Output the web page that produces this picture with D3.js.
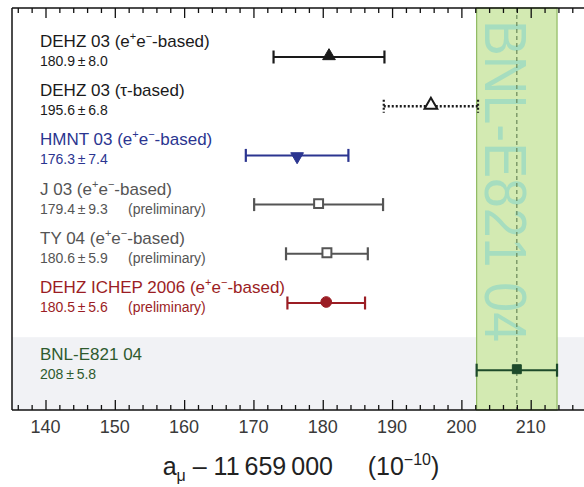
<!DOCTYPE html>
<html><head><meta charset="utf-8">
<script src="https://cdn.jsdelivr.net/npm/d3@7/dist/d3.min.js"></script>
<style>body{margin:0;background:#fff}svg{display:block}text{font-family:"Liberation Sans",Arial,Helvetica,sans-serif}</style>
</head><body><svg id="c" width="584" height="487"></svg>
<script>
// ---- data ----
const names = ["DEHZ 03 (e+e−-based)","DEHZ 03 (τ-based)","HMNT 03 (e+e−-based)","J 03 (e+e−-based)","TY 04 (e+e−-based)","DEHZ ICHEP 2006 (e+e−-based)","BNL-E821 04"];
const values = [180.9,195.6,176.3,179.4,180.6,180.5,208];
const errors = [8.0,6.8,7.4,9.3,5.9,5.6,5.8];
const preliminary = [false,false,false,true,true,true,false];
const groups = ["theory","theory","theory","theory","theory","theory","experiment"];
const majorTicks = [140,150,160,170,180,190,200,210];
const minorTicks = d3.range(136,218,2);
const bandLabel = "BNL-E821 04";
// ---- styles ----
const colors = ["#1a1a1a","#1a1a1a","#2b3590","#555555","#555555","#9b1d24","#1d4a2a"];
const textColors = ["#1a1a1a","#1a1a1a","#2b3590","#555555","#555555","#9b1d24","#2e5a2e"];
const markers = ["triUp","triUpOpen","triDown","sqOpen","sqOpen","circle","square"];
const dashed = [false,true,false,false,false,false,false];

const svg = d3.select("#c");
const W = 584, topY = 8, bottomY = 410, leftX = 12;
const x = d3.scaleLinear().domain([140,210]).range([45.5,530.7]);
const slot = d3.scaleLinear().domain([0,5]).range([57,303]);
const y = i => slot(i) + (groups[i]==="experiment" ? 18 : 0);

// experiment shaded region
const expIdx = groups.indexOf("experiment");
svg.append("rect").attr("x",leftX).attr("y",y(expIdx)-33).attr("width",W-leftX).attr("height",bottomY-(y(expIdx)-33)).attr("fill","#f1f2f5");

// band
const bv = values[expIdx], be = errors[expIdx];
svg.append("rect").attr("x",x(bv-be)).attr("y",topY).attr("width",x(bv+be)-x(bv-be)).attr("height",bottomY-topY)
  .attr("fill","#d3eab2").attr("stroke","#8fba62").attr("stroke-width",1.2);
svg.append("text").attr("transform",`translate(${x(bv-be)+8},20) rotate(90)`)
  .attr("font-size",60).attr("fill","#5cc9d6").attr("fill-opacity",0.38)
  .attr("textLength",322).attr("lengthAdjust","spacingAndGlyphs").text(bandLabel);
svg.append("line").attr("x1",x(bv)).attr("x2",x(bv)).attr("y1",topY).attr("y2",bottomY)
  .attr("stroke","#5f7f50").attr("stroke-width",1.1).attr("stroke-dasharray","4,3");

// axes
svg.append("line").attr("x1",leftX).attr("x2",W).attr("y1",topY).attr("y2",topY).attr("stroke","#111").attr("stroke-width",1.5);
svg.append("line").attr("x1",leftX).attr("x2",W).attr("y1",bottomY).attr("y2",bottomY).attr("stroke","#111").attr("stroke-width",1.5);
svg.append("line").attr("x1",leftX).attr("x2",leftX).attr("y1",topY).attr("y2",bottomY).attr("stroke","#111").attr("stroke-width",1.5);
const gt = svg.append("g").attr("transform",`translate(0,${topY})`);
gt.call(d3.axisBottom(x).tickValues(minorTicks.filter(v=>v%10)).tickSize(5).tickFormat(""));
gt.append("g").call(d3.axisBottom(x).tickValues(majorTicks).tickSize(10).tickFormat(""));
const gb = svg.append("g").attr("transform",`translate(0,${bottomY})`);
gb.call(d3.axisTop(x).tickValues(minorTicks.filter(v=>v%10)).tickSize(5).tickFormat(""));
gb.append("g").call(d3.axisTop(x).tickValues(majorTicks).tickSize(10).tickFormat(""));
svg.selectAll(".domain").remove();
svg.selectAll(".tick line").attr("stroke","#111").attr("stroke-width",1.3);
svg.selectAll(".tickLabel").data(majorTicks).join("text").attr("x",d=>x(d)).attr("y",bottomY+23)
  .attr("text-anchor","middle").attr("font-size",18).attr("fill","#3a3a3a").text(d=>d);

// axis title
const t = svg.append("text").attr("x",301).attr("y",475).attr("text-anchor","middle").attr("font-size",25).attr("fill","#222");
t.append("tspan").text("a");
t.append("tspan").attr("font-size",16).attr("dy",6).text("μ");
t.append("tspan").attr("dy",-6).text("\u00a0– 11\u2009659\u2009000\u00a0\u00a0\u00a0\u00a0\u00a0(10");
t.append("tspan").attr("font-size",16).attr("dy",-10).text("−10");
t.append("tspan").attr("dy",10).text(")");

// rows
values.forEach((v,i)=>{
  const yc = y(i), c = colors[i];
  const g = svg.append("g");
  const dash = dashed[i] ? "2,2" : null;
  const sw = dashed[i] ? 2.5 : 2;
  g.append("line").attr("x1",x(v-errors[i])).attr("x2",x(v+errors[i])).attr("y1",yc).attr("y2",yc)
    .attr("stroke",c).attr("stroke-width",sw).attr("stroke-dasharray",dash);
  [v-errors[i],v+errors[i]].forEach(e=>g.append("line").attr("x1",x(e)).attr("x2",x(e)).attr("y1",yc-6.5).attr("y2",yc+6.5)
    .attr("stroke",c).attr("stroke-width",2.2).attr("stroke-dasharray",dash));
  const m = markers[i];
  let sym;
  if(m.startsWith("tri")) sym = d3.symbol(d3.symbolTriangle,70);
  else if(m==="circle") sym = d3.symbol(d3.symbolCircle,90);
  else sym = d3.symbol(d3.symbolSquare,80);
  const open = m.includes("Open");
  g.append("path").attr("d",sym()).attr("transform",`translate(${x(v)},${yc+(m==="triDown"?1:-1)}) rotate(${m==="triDown"?180:0})`)
    .attr("fill",open?"#fff":c).attr("stroke",c).attr("stroke-width",open?2:1);
  const tc = textColors[i];
  const nt = svg.append("text").attr("x",40).attr("y",yc-10).attr("font-size",17).attr("fill",tc);
  const parts = names[i].split("e+e−");
  if(parts.length>1){
    nt.append("tspan").text(parts[0]+"e");
    nt.append("tspan").attr("font-size",11).attr("dy",-7).text("+");
    nt.append("tspan").attr("dy",7).text("e");
    nt.append("tspan").attr("font-size",11).attr("dy",-7).text("−");
    nt.append("tspan").attr("dy",7).text(parts[1]);
  } else nt.text(names[i]);
  const vt = (Number.isInteger(v)?String(v):v.toFixed(1)) + "\u2009±\u2009" + errors[i].toFixed(1);
  svg.append("text").attr("x",40).attr("y",yc+9).attr("font-size",14).attr("fill",tc).text(vt);
  if(preliminary[i]) svg.append("text").attr("x",128).attr("y",yc+9).attr("font-size",14).attr("fill",tc).text("(preliminary)");
});
</script></body></html>
